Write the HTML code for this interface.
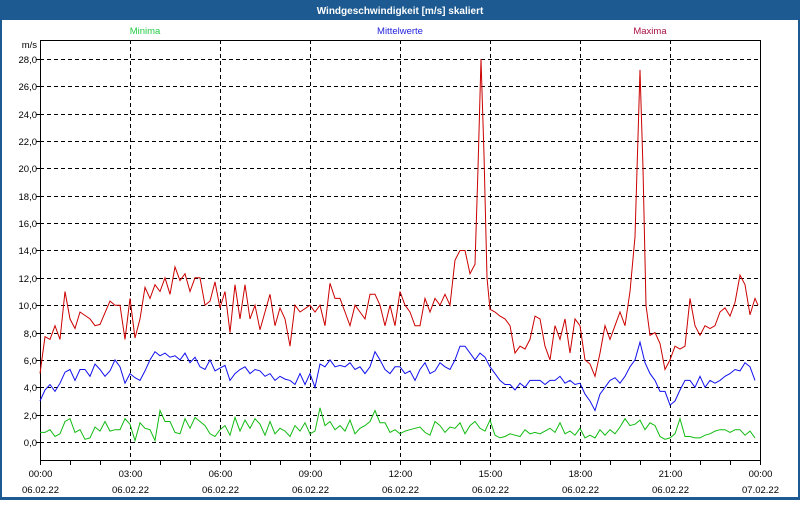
<!DOCTYPE html>
<html><head><meta charset="utf-8"><style>
html,body{margin:0;padding:0;background:#fff}
body{width:800px;height:500px;overflow:hidden;font-family:"Liberation Sans","DejaVu Sans",sans-serif}
</style></head><body>
<svg id="s" width="800" height="500" xmlns="http://www.w3.org/2000/svg" font-family="Liberation Sans, DejaVu Sans, sans-serif" font-size="9.5">
<rect x="0" y="0" width="800" height="500" fill="#1c5a91"/>
<rect x="2" y="20" width="796" height="477" fill="#fff"/>
<text x="400" y="14" fill="#fff" font-weight="bold" font-size="10" text-anchor="middle">Windgeschwindigkeit [m/s] skaliert</text>
<text x="145" y="34" fill="#22cc44" text-anchor="middle">Minima</text>
<text x="400" y="34" fill="#2222dd" text-anchor="middle">Mittelwerte</text>
<text x="650" y="34" fill="#aa1144" text-anchor="middle">Maxima</text>
<text x="37" y="48" text-anchor="end" fill="#000">m/s</text>
<g id="grid"></g>
<rect x="40.5" y="40.5" width="720" height="420" fill="none" stroke="#000" stroke-width="1"/>
<g id="data"></g>
</svg>
<script>
var NS="http://www.w3.org/2000/svg",g=document.getElementById('grid'),d=document.getElementById('data');
function el(p,t,a,txt){var e=document.createElementNS(NS,t);for(var k in a)e.setAttribute(k,a[k]);if(txt!=null)e.textContent=txt;p.appendChild(e);return e;}
function Y(v){return 442-v*13.68;}
for(var v=0;v<=28;v+=2){var y=Math.round(Y(v))+0.5;el(g,'line',{x1:40,x2:760,y1:y,y2:y,stroke:'#000','stroke-dasharray':'4,3','stroke-width':1});
el(g,'line',{x1:36,x2:40,y1:y,y2:y,stroke:'#000'});
el(g,'text',{x:37,y:y+3.5,'text-anchor':'end',fill:'#000'},v.toFixed(1).replace('.',','));}
for(var h=0;h<=24;h++){var x=40+h*30+0.5;el(g,'line',{x1:x,x2:x,y1:460,y2:465,stroke:'#000'});
if(h%3==0){if(h>0&&h<24)el(g,'line',{x1:x,x2:x,y1:40,y2:460,stroke:'#000','stroke-dasharray':'4,3'});
el(g,'text',{x:x,y:477,'text-anchor':'middle',fill:'#000'},(h==24?'00':('0'+h).slice(-2))+':00');
el(g,'text',{x:x,y:493,'text-anchor':'middle',fill:'#000'},h==24?'07.02.22':'06.02.22');}}
var red=[[40,5],[45,7.7],[50,7.5],[55,8.5],[60,7.5],[65,11],[70,9],[75,8.3],[80,9.5],[90,9],[95,8.5],[100,8.6],[110,10.3],[115,10],[120,10],[125,7.5],[130,10.5],[135,7.6],[140,9],[145,11.3],[150,10.5],[155,11.5],[160,11],[165,12],[170,10.8],[175,12.8],[180,11.8],[185,12.3],[190,11],[195,12],[200,12],[205,10],[210,10.3],[215,11.7],[220,9.8],[225,11],[230,8],[235,11.5],[240,9],[245,11.5],[250,9],[255,10],[260,8.2],[265,9.5],[270,10.8],[275,8.5],[280,9.8],[285,9],[290,7],[295,10],[300,9.5],[310,10],[315,9.5],[320,10],[325,8.5],[330,11.6],[335,10.5],[340,10.5],[345,9.5],[350,8.5],[355,10],[360,9.5],[365,9],[370,10.8],[375,10.8],[380,10],[385,8.5],[390,10],[395,8.5],[400,11],[405,10],[410,9.5],[415,8.5],[420,8.5],[425,10.5],[430,9.5],[435,10.5],[440,10],[445,10.8],[450,10],[455,13.3],[460,14],[465,14],[470,12.3],[475,13],[478,20],[481,28],[484,21],[487,12],[490,9.7],[495,9.5],[500,9.2],[505,9],[510,8.5],[515,6.5],[520,7],[525,6.8],[530,7.5],[535,9.2],[540,9],[545,7],[550,6],[555,8.5],[560,7.5],[565,9],[570,6.5],[575,9],[580,8.5],[585,6],[590,5.7],[595,4.8],[600,6.5],[605,8.5],[610,7.5],[615,8.5],[620,9.5],[625,8.5],[630,11],[635,15],[640,27.2],[643,20],[646,10],[650,7.8],[655,8],[660,7.2],[665,5.3],[670,6],[675,7],[680,6.8],[685,7],[690,10.5],[695,8.5],[700,7.8],[705,8.5],[710,8.3],[715,8.5],[720,9.5],[725,9.8],[730,9.2],[735,10.2],[740,12.2],[745,11.5],[750,9.3],[755,10.5],[758,10]];
var blue=[3,3.8,4.2,3.7,4.3,5.1,5.3,4.5,5.3,5.3,4.8,5.7,5.3,4.8,5.2,6,5.5,4.3,5,4.7,4.5,5.2,6,6.6,6.3,6.5,6.2,6.3,6,6.5,5.8,6.2,5.5,5.3,6,5.2,5.4,5.6,4.5,5,5.3,5.5,5,5.3,5.2,4.8,5,4.5,4.8,4.6,4.5,4.2,5,4.2,5,4,5.7,5.5,6,5.5,5.6,5.5,5.8,5.3,5.5,5,5.5,6.6,6,5.3,5,5.5,5.5,5,5.2,4.5,5.3,5.8,5,5.2,5.8,5.5,5.3,6,7,7,6.5,6,6.5,6.2,5.5,5,4.5,4.2,4.2,3.8,4.3,4,4.5,4.5,4.5,4.2,4.5,4.5,4.8,4.3,4.5,4.2,4.3,3.5,3,2.3,3.5,4,4.5,4.7,4.3,4.8,5.5,6,7.3,5.8,5,4.5,3.7,3.7,2.7,3,3.8,4.5,4.5,4,4.8,4,4.5,4.3,4.5,4.8,5,5.3,5.2,5.8,5.5,4.5];
var green=[0.7,0.7,0.9,0.4,0.6,1.5,1.7,0.7,0.9,0.2,0.3,1.1,0.8,1.5,0.8,0.9,0.9,1.7,1.3,0.1,1.4,1,0.9,0.1,2.3,1.5,1.5,0.7,0.6,1.7,1,1.8,1.5,1.2,0.6,0.4,0.9,1.2,0.5,1.8,0.8,1.6,1,1.7,1.3,0.5,1.5,0.6,1,0.8,0.4,1.2,0.8,1.4,0.6,0.8,2.5,1.2,1.5,0.9,1.2,0.8,1.6,0.6,1,1.2,1.5,2.3,1.4,1.4,0.7,0.9,0.6,0.8,0.9,1,1.1,0.7,0.5,1.5,1.2,0.7,1.1,1,1.4,0.6,1.2,1.5,1,0.8,1.6,0.5,0.3,0.4,0.6,0.5,0.4,0.9,0.6,0.7,0.6,0.8,1,0.7,1.4,0.6,0.8,0.5,1,0.3,0.5,0.3,0.9,0.5,0.9,0.6,1.1,1.7,1.2,1.3,1.6,0.9,1.4,1.2,0.4,0.2,0.3,0.6,1.7,0.4,0.4,0.3,0.3,0.5,0.6,0.8,0.9,0.9,0.7,0.9,0.9,0.5,0.8,0.3];
function line(pts,c){el(d,'polyline',{points:pts.map(function(p){return p[0]+','+Y(p[1]).toFixed(1)}).join(' '),fill:'none',stroke:c,'stroke-width':1});}
function arr(a){return a.map(function(v,i){return [40+i*5,v]});}
line(arr(green),'#11bb11');line(arr(blue),'#1111ee');line(red,'#cc0000');
</script>
</body></html>
